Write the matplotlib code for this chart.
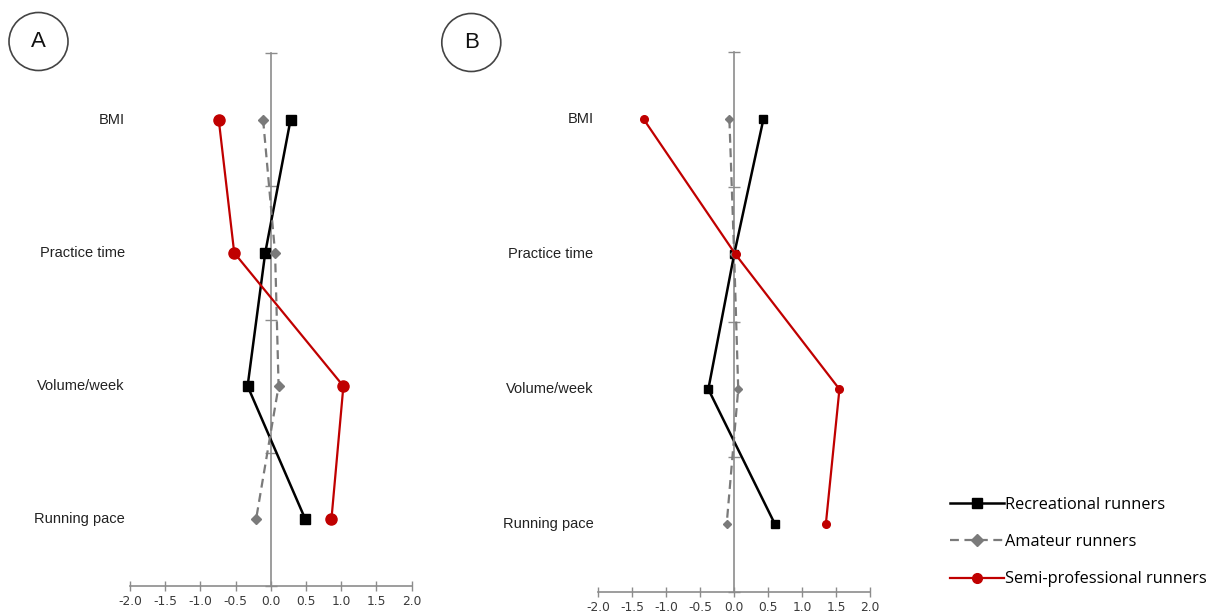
import matplotlib
matplotlib.use("Agg")
import matplotlib.pyplot as plt
from matplotlib.patches import Ellipse
from matplotlib.lines import Line2D
from matplotlib.transforms import blended_transform_factory

categories = ["BMI", "Practice time", "Volume/week", "Running pace"]
series_names = ["Recreational runners", "Amateur runners", "Semi-professional runners"]

# Panel A values (z-scores)
a_recreational = [0.28, -0.08, -0.33, 0.49]
a_amateur = [-0.11, 0.06, 0.11, -0.21]
a_semipro = [-0.74, -0.52, 1.03, 0.86]

# Panel B values
b_recreational = [0.43, 0.00, -0.38, 0.60]
b_amateur = [-0.07, 0.00, 0.06, -0.11]
b_semipro = [-1.33, 0.02, 1.55, 1.35]

x_ticks = [-2.0, -1.5, -1.0, -0.5, 0.0, 0.5, 1.0, 1.5, 2.0]
x_tick_labels = ["%.1f" % v for v in x_ticks]

W, H = 1225, 612
fig = plt.figure(figsize=(W / 100, H / 100), dpi=100)
fig.patch.set_facecolor("white")

AXIS_COLOR = "#8c8c8c"
styles = [
    dict(color="#000000", linestyle="-", marker="s", lw=1.8),
    dict(color="#7a7a7a", linestyle=(0, (4, 2.5)), marker="D", lw=1.6),
    dict(color="#c00000", linestyle="-", marker="o", lw=1.6),
]


def make_panel(box, data, msizes, label_x_px):
    left, right, top, bottom = box
    ax = fig.add_axes([left / W, 1 - bottom / H, (right - left) / W, (bottom - top) / H])
    ypos = list(range(len(categories)))
    for vals, st, ms in zip(data, styles, msizes):
        ax.plot(vals, ypos, color=st["color"], linestyle=st["linestyle"], lw=st["lw"],
                marker=st["marker"], markersize=ms, markeredgecolor=st["color"],
                markerfacecolor=st["color"], zorder=3)
    ax.set_xlim(-2.0, 2.0)
    ax.set_ylim(len(categories) - 0.5, -0.5)
    for s in ["top", "right"]:
        ax.spines[s].set_visible(False)
    ax.spines["left"].set_position(("data", 0.0))
    ax.spines["left"].set_color(AXIS_COLOR)
    ax.spines["left"].set_linewidth(1.2)
    ax.spines["left"].set_zorder(1)
    ax.spines["bottom"].set_color(AXIS_COLOR)
    ax.spines["bottom"].set_linewidth(1.2)
    ax.set_yticks([i - 0.5 for i in range(len(categories) + 1)])
    ax.set_yticklabels([])
    ax.tick_params(axis="y", direction="inout", length=9, width=1.0, color=AXIS_COLOR)
    ax.set_xticks(x_ticks)
    ax.set_xticklabels(x_tick_labels)
    ax.tick_params(axis="x", direction="inout", length=7, width=1.0, color=AXIS_COLOR,
                   labelsize=8.8, labelcolor="#3a3a3a", pad=3)
    ax.patch.set_alpha(0)
    tr = blended_transform_factory(fig.transFigure, ax.transData)
    for i, c in enumerate(categories):
        ax.text(label_x_px / W, i, c, transform=tr, ha="right", va="center",
                fontsize=10.5, family="Liberation Sans", color="#222222")
    return ax


def add_letter(letter, cx, cy):
    e = Ellipse((cx / W, 1 - cy / H), 59 / W, 58 / H, transform=fig.transFigure,
                fill=False, edgecolor="#444444", lw=1.2)
    fig.patches.append(e)
    fig.text(cx / W, 1 - cy / H, letter, ha="center", va="center", fontsize=16,
             family="Liberation Sans", color="#111111")


axA = make_panel((130, 411.7, 53, 586), [a_recreational, a_amateur, a_semipro],
                 [7, 5, 8], 124.7)
axB = make_panel((598.3, 870, 52, 591.5), [b_recreational, b_amateur, b_semipro],
                 [5.5, 4, 5.5], 593.5)
add_letter("A", 38.5, 41.5)
add_letter("B", 471.3, 42.5)

# legend
handles = [Line2D([0], [0], color=st["color"], linestyle=st["linestyle"], lw=st["lw"],
                  marker=st["marker"], markersize=7 if st["marker"] != "D" else 6,
                  markerfacecolor=st["color"], markeredgecolor=st["color"])
           for st in styles]
fig.legend(handles, series_names, loc="upper left",
           bbox_to_anchor=(935 / W, 1 - 482 / H), frameon=False,
           handlelength=3.3, handletextpad=0.1, labelspacing=1.3,
           prop={"family": "Open Sans", "size": 11.8})

fig.savefig("out.png", dpi=100, facecolor="white")
